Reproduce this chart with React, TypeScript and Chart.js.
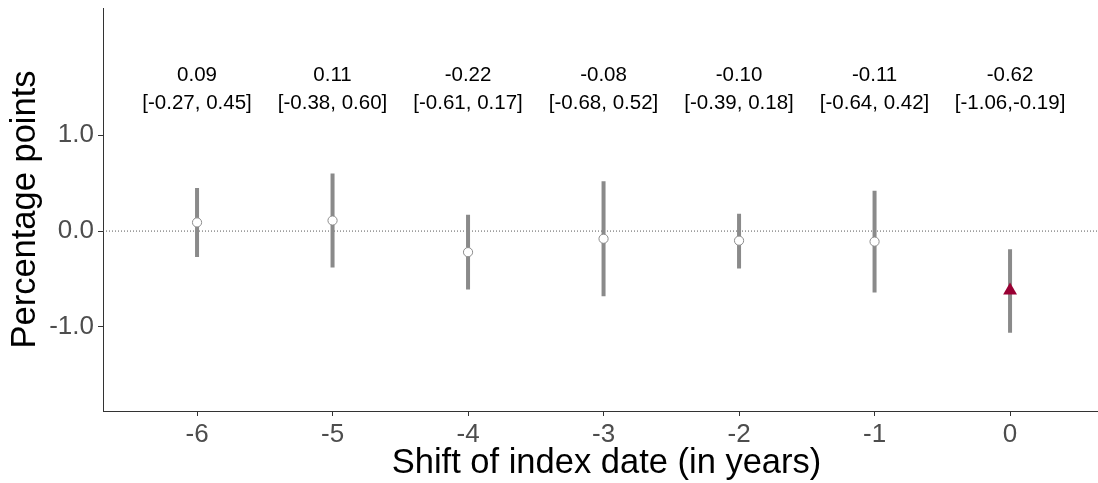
import React, { useEffect, useRef } from "react";
import { Chart, registerables } from "chart.js";

Chart.register(...registerables);

// ---- data ----
const shiftYears = [-6, -5, -4, -3, -2, -1, 0];
const estimates = [0.09, 0.11, -0.22, -0.08, -0.1, -0.11, -0.62];
const ciLower = [-0.27, -0.38, -0.61, -0.68, -0.39, -0.64, -1.06];
const ciUpper = [0.45, 0.6, 0.17, 0.52, 0.18, 0.42, -0.19];
const ciLabels = [
  "[-0.27, 0.45]",
  "[-0.38, 0.60]",
  "[-0.61, 0.17]",
  "[-0.68, 0.52]",
  "[-0.39, 0.18]",
  "[-0.64, 0.42]",
  "[-1.06,-0.19]",
];
const markerShapes = ["circle", "circle", "circle", "circle", "circle", "circle", "triangle"];
const xTickValues = [-6, -5, -4, -3, -2, -1, 0];
const yTickValues = [-1, 0, 1];
const xTitle = "Shift of index date (in years)";
const yTitle = "Percentage points";

// ---- layout / style constants ----
const WIDTH = 1098;
const HEIGHT = 483;
const X_MIN = -6.694;
const X_MAX = 0.649;
const Y_MIN = -1.877;
const Y_MAX = 2.327;
const LABEL_LINE1_Y = 1.569;
const LABEL_LINE2_Y = 1.275;
const FONT = "'Liberation Sans', Arial, Helvetica, sans-serif";
const HIGHLIGHT = "#990033";
const BAR_GREY = "#8a8a8a";

const textPlugin = {
  id: "textAnnotations",
  afterDraw(chart: any) {
    const ctx = chart.ctx;
    const xs = chart.scales.x;
    const ys = chart.scales.y;
    const area = chart.chartArea;
    ctx.save();
    ctx.fillStyle = "#000";
    ctx.textAlign = "center";
    ctx.textBaseline = "alphabetic";
    ctx.font = `20.5px ${FONT}`;
    shiftYears.forEach((x, i) => {
      const px = xs.getPixelForValue(x);
      ctx.fillText(estimates[i].toFixed(2), px, ys.getPixelForValue(LABEL_LINE1_Y));
      ctx.fillText(ciLabels[i], px, ys.getPixelForValue(LABEL_LINE2_Y));
    });
    ctx.font = `34.5px ${FONT}`;
    ctx.fillText(xTitle, (area.left + Math.min(area.right, WIDTH)) / 2 + 6, 473);
    ctx.translate(35, (area.top + area.bottom) / 2);
    ctx.rotate(-Math.PI / 2);
    ctx.fillText(yTitle, 0, 0);
    ctx.restore();
  },
};

function zeroPadding(scale: any) {
  scale.paddingTop = 0;
  scale.paddingBottom = 0;
  scale.paddingLeft = 0;
  scale.paddingRight = 0;
}

function makeConfig(): any {
  const errorBarData: any[] = [];
  shiftYears.forEach((x, i) => {
    errorBarData.push({ x, y: ciLower[i] });
    errorBarData.push({ x, y: ciUpper[i] });
    errorBarData.push({ x, y: null });
  });
  const pointData = shiftYears.map((x, i) => ({ x, y: estimates[i] }));

  return {
    type: "scatter",
    data: {
      datasets: [
        {
          type: "scatter",
          label: "estimate",
          data: pointData,
          order: 0,
          pointStyle: markerShapes,
          pointRadius: markerShapes.map((s) => (s === "triangle" ? 8 : 4.6)),
          pointBackgroundColor: markerShapes.map((s) => (s === "triangle" ? HIGHLIGHT : "#ffffff")),
          pointBorderColor: markerShapes.map((s) => (s === "triangle" ? HIGHLIGHT : "#8c8c8c")),
          pointBorderWidth: markerShapes.map((s) => (s === "triangle" ? 0 : 1)),
        },
        {
          type: "line",
          label: "ci",
          data: errorBarData,
          order: 1,
          borderColor: BAR_GREY,
          borderWidth: 4,
          borderCapStyle: "butt",
          pointRadius: 0,
          spanGaps: false,
          fill: false,
        },
        {
          type: "line",
          label: "zero",
          data: [
            { x: X_MIN, y: 0 },
            { x: X_MAX, y: 0 },
          ],
          order: 2,
          borderColor: "#555555",
          borderWidth: 1,
          borderDash: [1, 2],
          pointRadius: 0,
          fill: false,
        },
      ],
    },
    options: {
      animation: false,
      responsive: false,
      events: [],
      layout: { padding: { top: 5, right: 0, bottom: 0, left: 0 } },
      plugins: {
        legend: { display: false },
        tooltip: { enabled: false },
        title: { display: false },
      },
      scales: {
        x: {
          type: "linear",
          min: X_MIN,
          max: X_MAX,
          afterBuildTicks: (scale: any) => {
            scale.ticks = xTickValues.map((v) => ({ value: v }));
          },
          afterFit: (scale: any) => {
            scale.height = 72;
            zeroPadding(scale);
          },
          ticks: {
            autoSkip: false,
            maxRotation: 0,
            padding: 3,
            color: "#4d4d4d",
            font: { family: FONT, size: 26 },
            callback: (v: any) => String(v),
          },
          grid: {
            display: true,
            drawOnChartArea: false,
            drawTicks: true,
            tickLength: 5,
            color: "#333333",
          },
          border: { display: true, color: "#333333", width: 1 },
        },
        y: {
          type: "linear",
          min: Y_MIN,
          max: Y_MAX,
          afterBuildTicks: (scale: any) => {
            scale.ticks = yTickValues.map((v) => ({ value: v }));
          },
          afterFit: (scale: any) => {
            scale.width = 103;
            zeroPadding(scale);
          },
          ticks: {
            autoSkip: false,
            padding: 4,
            color: "#4d4d4d",
            font: { family: FONT, size: 26 },
            callback: (v: any) => Number(v).toFixed(1),
          },
          grid: {
            display: true,
            drawOnChartArea: false,
            drawTicks: true,
            tickLength: 5,
            color: "#333333",
          },
          border: { display: true, color: "#333333", width: 1 },
        },
      },
    },
    plugins: [textPlugin],
  };
}

export default function App() {
  const ref = useRef<HTMLCanvasElement | null>(null);

  useEffect(() => {
    const canvas = ref.current;
    if (!canvas) return;
    let chart: any = null;

    const build = (w: number) => {
      canvas.width = w;
      canvas.height = HEIGHT;
      canvas.style.width = `${w}px`;
      canvas.style.height = `${HEIGHT}px`;
      chart = new Chart(canvas, makeConfig());
    };

    build(WIDTH);
    // Chart.js keeps a small right margin; rebuild on a wider canvas so the
    // plot area reaches the visible right edge (the wrapper clips the rest).
    const deficit = WIDTH - chart.chartArea.right;
    if (deficit > 0.5) {
      chart.destroy();
      build(WIDTH + Math.round(deficit));
    }

    return () => {
      if (chart) chart.destroy();
    };
  }, []);

  return (
    <div
      style={{
        position: "absolute",
        left: 0,
        top: 0,
        width: WIDTH,
        height: HEIGHT,
        overflow: "hidden",
        background: "#fff",
      }}
    >
      <div style={{ width: WIDTH + 100, height: HEIGHT }}>
        <canvas ref={ref} width={WIDTH} height={HEIGHT} style={{ display: "block" }} />
      </div>
    </div>
  );
}
